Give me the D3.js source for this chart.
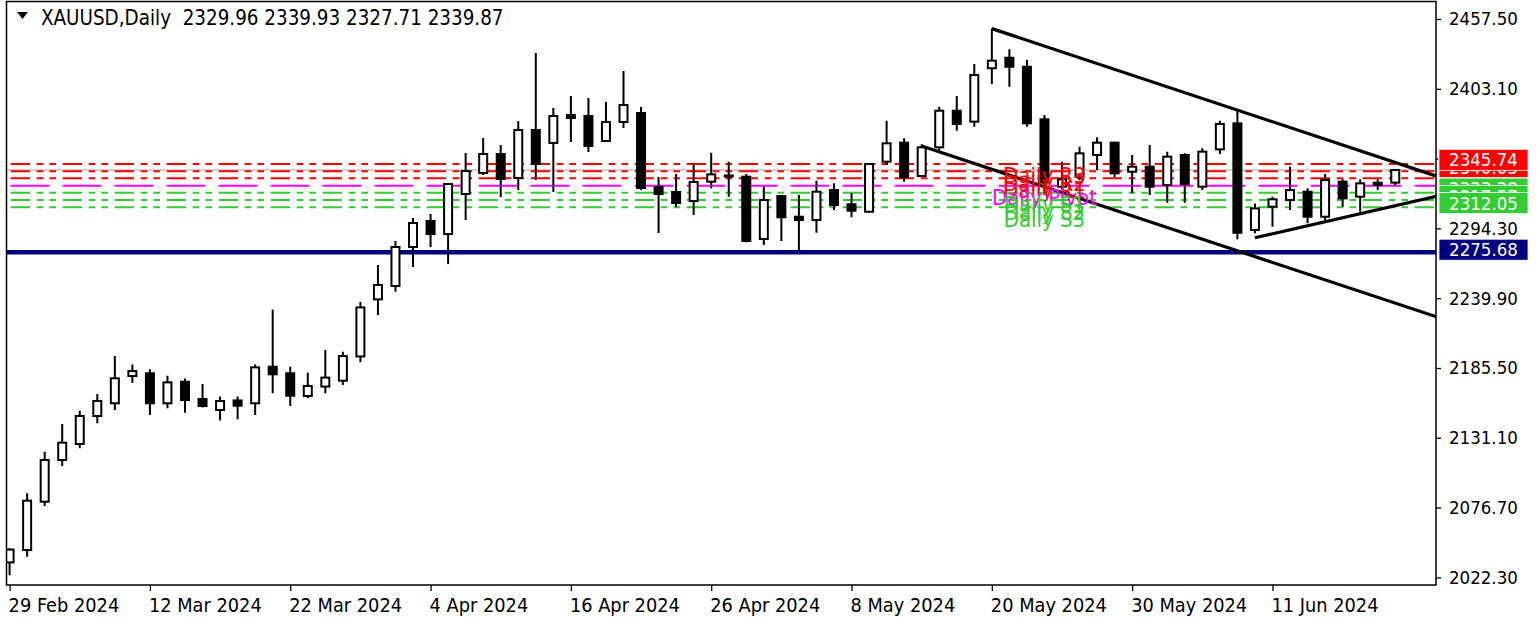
<!DOCTYPE html>
<html><head><meta charset="utf-8">
<script src="https://cdn.jsdelivr.net/npm/d3@7"></script>
<style>
html,body{margin:0;padding:0;background:#fff;}
svg{display:block;}
text{font-family:"DejaVu Sans Condensed","DejaVu Sans",sans-serif;font-stretch:condensed;}
</style></head><body>
<svg id="c" width="1538" height="622"></svg>
<script>
// ---------------- data ----------------
const symbol = "XAUUSD,Daily";
const headerOHLC = ["2329.96","2339.93","2327.71","2339.87"];
const dates = ["2024-02-29","2024-03-01","2024-03-04","2024-03-05","2024-03-06","2024-03-07","2024-03-08",
"2024-03-11","2024-03-12","2024-03-13","2024-03-14","2024-03-15","2024-03-18","2024-03-19","2024-03-20","2024-03-21","2024-03-22",
"2024-03-25","2024-03-26","2024-03-27","2024-03-28","2024-04-01","2024-04-02","2024-04-03","2024-04-04","2024-04-05",
"2024-04-08","2024-04-09","2024-04-10","2024-04-11","2024-04-12","2024-04-15","2024-04-16","2024-04-17","2024-04-18","2024-04-19",
"2024-04-22","2024-04-23","2024-04-24","2024-04-25","2024-04-26","2024-04-29","2024-04-30","2024-05-01","2024-05-02","2024-05-03",
"2024-05-06","2024-05-07","2024-05-08","2024-05-09","2024-05-10","2024-05-13","2024-05-14","2024-05-15","2024-05-16","2024-05-17",
"2024-05-20","2024-05-21","2024-05-22","2024-05-23","2024-05-24","2024-05-27","2024-05-28","2024-05-29","2024-05-30","2024-05-31",
"2024-06-03","2024-06-04","2024-06-05","2024-06-06","2024-06-07","2024-06-10","2024-06-11","2024-06-12","2024-06-13","2024-06-14",
"2024-06-17","2024-06-18","2024-06-19","2024-06-20"];
const opens = [2034,2043.6,2081.3,2113.8,2126.3,2148.1,2158.0,2179.2,2181.4,2158.0,2174.8,2161.3,2152.8,2160.2,2158.0,2186.5,2181.4,
2163.7,2171.0,2175.6,2194.5,2239.0,2249.4,2279.8,2300.1,2289.9,2321.1,2337.5,2352.3,2333.6,2371.0,2360.9,2382.7,2381.9,2362.4,2377.2,
2384.2,2326.6,2322.7,2315.6,2330.7,2335.5,2334.6,2286.0,2319.5,2303.4,2300.8,2324.2,2313.1,2307.3,2346.3,2361.1,2335.1,2357.5,2386.0,2377.5,
2419.1,2427.3,2420.3,2379.3,2326.8,2334.6,2351.5,2361.1,2338.5,2342.4,2328.1,2351.5,2326.8,2355.9,2376.2,2293.1,2311.2,2316.4,2322.9,2303.4,
2330.7,2319.0,2329.9,2329.96];
const highs = [2045,2087.8,2120.2,2141.8,2152.2,2165.2,2194.8,2188.3,2184.5,2179.5,2177.4,2173.0,2163.2,2163.2,2188.3,2231.0,2186.5,
2181.9,2199.5,2198.2,2237.0,2265.8,2284.5,2302.4,2305.5,2329.7,2353.1,2364.7,2359.3,2378.0,2431.0,2388.1,2397.5,2395.9,2392.8,2417.0,
2389.0,2334.4,2336.7,2345.3,2353.3,2346.3,2336.7,2326.8,2320.3,2320.3,2331.5,2329.4,2321.6,2345.3,2378.2,2364.5,2359.9,2389.1,2397.5,2422.4,
2450.0,2433.9,2425.5,2382.7,2346.3,2358.0,2365.3,2361.8,2351.5,2359.3,2354.1,2352.8,2356.7,2378.2,2386.0,2313.8,2319.0,2342.4,2325.5,2336.7,
2332.6,2332.6,2332.6,2339.93];
const lows = [2024,2038.4,2077.9,2109.1,2122.9,2142.4,2152.8,2174.0,2148.9,2154.1,2150.7,2154.8,2144.5,2145.5,2148.9,2165.8,2155.9,
2162.0,2165.8,2172.3,2190.0,2226.8,2245.0,2264.2,2279.8,2266.5,2300.8,2335.9,2318.8,2324.2,2332.0,2322.7,2361.6,2353.8,2362.0,2372.5,
2324.2,2290.7,2311.0,2304.7,2325.5,2319.0,2283.5,2281.4,2284.5,2276.1,2290.9,2308.6,2303.0,2306.5,2343.7,2330.7,2334.3,2355.4,2370.4,2373.5,
2406.8,2404.7,2373.6,2322.0,2325.0,2332.0,2339.8,2334.1,2321.6,2320.3,2314.3,2314.3,2324.2,2352.3,2285.8,2290.5,2295.6,2308.6,2298.3,2300.8,
2311.2,2307.3,2324.2,2327.71];
const closes = [2044,2082.1,2113.8,2127.3,2148.1,2159.8,2177.5,2183.1,2158.0,2174.3,2160.5,2155.9,2159.8,2156.1,2186.0,2180.6,2163.9,
2171.5,2178.0,2194.8,2232.7,2250.2,2279.8,2298.5,2289.9,2328.9,2339.0,2352.3,2332.8,2371.0,2344.5,2381.9,2380.3,2358.5,2377.2,2390.5,
2325.8,2321.1,2314.1,2330.5,2336.4,2334.8,2284.5,2316.4,2303.0,2300.8,2322.9,2312.5,2308.1,2344.5,2360.6,2334.1,2357.5,2386.0,2375.7,2413.8,
2425.0,2420.3,2376.2,2330.0,2332.6,2352.8,2361.1,2337.2,2342.4,2326.8,2350.2,2328.9,2354.1,2375.7,2290.9,2309.9,2317.0,2324.2,2303.4,2332.0,
2317.7,2329.4,2328.1,2339.87];
const yTicks = [2457.50,2403.10,2348.70,2294.30,2239.90,2185.50,2131.10,2076.70,2022.30];
const xTickIdx = [0,8,16,24,32,40,48,56,64,72];
const pivotNames = ["Daily R3","Daily R2","Daily R1","Daily Pivot","Daily S1","Daily S2","Daily S3"];
const pivotValues = [2345.74,2340.03,2334.51,2328.80,2323.28,2317.57,2312.05];
const pivotKinds = ["R","R","R","P","S","S","S"];
const supportLevel = 2275.68;
const bidPrice = 2339.87;
// trend lines: [startIdx, startPrice, secondIdx, secondPrice]
const trendUpper = [56, 2450.0, 70, 2386.5];
const trendLowerStart = [52, 2358.5];
const trendSupport = [71, 2287.0, 81, 2318.3];

// ---------------- setup ----------------
const svg = d3.select("#c");
const P = {left:6.5, right:1436, top:1.5, bottom:585};
const x = d3.scaleLinear().domain([0,79]).range([9.6, 9.6+79*17.54]);
const y = d3.scaleLinear().domain([2022.3,2457.5]).range([577.4,19]);
const FS = 18.5;
const colors = {R:"#ff0000", P:"#ff00ff", S:"#32cd32"};

svg.append("defs").append("clipPath").attr("id","clip")
  .append("rect").attr("x",P.left).attr("y",P.top).attr("width",P.right-P.left).attr("height",P.bottom-P.top);
const g = svg.append("g").attr("clip-path","url(#clip)");

// bid line
g.append("line").attr("x1",P.left).attr("x2",P.right).attr("y1",y(bidPrice)).attr("y2",y(bidPrice))
  .attr("stroke","#c0c0c0").attr("stroke-width",1.5);

// pivot lines
const dashStart = 10.7 - 52*2;
pivotValues.forEach((v,i)=>{
  const k = pivotKinds[i];
  g.append("line").attr("x1",dashStart).attr("x2",P.right).attr("y1",y(v)+1.5).attr("y2",y(v)+1.5)
    .attr("stroke",colors[k]).attr("stroke-width",2)
    .attr("stroke-dasharray", k==="P" ? "38.7,13.3" : "19.3,6.7,6.7,6,6.7,6.6");
});

// support line (navy)
g.append("line").attr("x1",P.left).attr("x2",P.right).attr("y1",y(supportLevel)).attr("y2",y(supportLevel))
  .attr("stroke","#000080").attr("stroke-width",4.5);

// candles
const data = dates.map((d,i)=>({i, o:opens[i], h:highs[i], l:lows[i], c:closes[i]}));
const cg = g.append("g");
cg.selectAll("line.wick").data(data).join("line").attr("class","wick")
  .attr("x1",d=>x(d.i)).attr("x2",d=>x(d.i)).attr("y1",d=>y(d.h)).attr("y2",d=>y(d.l))
  .attr("stroke","#000").attr("stroke-width",2);
cg.selectAll("rect.body").data(data).join("rect").attr("class","body")
  .attr("x",d=>x(d.i)-4).attr("width",8)
  .attr("y",d=>y(Math.max(d.o,d.c)))
  .attr("height",d=>Math.max(1,Math.abs(y(d.o)-y(d.c))))
  .attr("fill",d=>d.c>=d.o?"#fff":"#000").attr("stroke","#000").attr("stroke-width",2);

// trend lines
function priceAt(line, idx){ return line[1] + (line[3]-line[1])/(line[2]-line[0])*(idx-line[0]); }
const rightIdx = x.invert(P.right+5);
const slopeU = (trendUpper[3]-trendUpper[1])/(trendUpper[2]-trendUpper[0]);
const tl = [
  [trendUpper[0], trendUpper[1], rightIdx, priceAt(trendUpper,rightIdx)],
  [trendLowerStart[0], trendLowerStart[1], rightIdx, trendLowerStart[1]+slopeU*(rightIdx-trendLowerStart[0])],
  [trendSupport[0], trendSupport[1], rightIdx, priceAt(trendSupport,rightIdx)]
];
g.selectAll("line.trend").data(tl).join("line").attr("class","trend")
  .attr("x1",d=>x(d[0])).attr("y1",d=>y(d[1])).attr("x2",d=>x(d[2])).attr("y2",d=>y(d[3]))
  .attr("stroke","#000").attr("stroke-width",3.2);

// pivot text labels
pivotValues.forEach((v,i)=>{
  g.append("text").attr("x",x(59)).attr("y",y(v)+21).attr("text-anchor","middle")
    .attr("font-size",22).attr("fill",colors[pivotKinds[i]]).text(pivotNames[i]);
});

// frame
svg.append("rect").attr("x",P.left).attr("y",P.top).attr("width",P.right-P.left).attr("height",P.bottom-P.top)
  .attr("fill","none").attr("stroke","#000").attr("stroke-width",1.5);

// y axis
const yAxis = d3.axisRight(y).tickValues(yTicks).tickSize(5).tickPadding(8).tickFormat(d3.format(".2f"));
const ya = svg.append("g").attr("transform",`translate(${P.right},0)`).call(yAxis);
ya.select(".domain").remove();
ya.selectAll("text").attr("font-size",FS).attr("fill","#000").attr("font-family",null);
ya.selectAll("line").attr("stroke","#000").attr("stroke-width",1.3);

// x axis
const fmt = d3.timeFormat("%-d %b %Y");
const parse = d3.timeParse("%Y-%m-%d");
const xAxis = d3.axisBottom(x).tickValues(xTickIdx).tickSize(6).tickPadding(7)
  .tickFormat(i=>fmt(parse(dates[i])));
const xa = svg.append("g").attr("transform",`translate(0,${P.bottom})`).call(xAxis);
xa.select(".domain").remove();
xa.selectAll("text").attr("font-size",19.8).attr("fill","#000").attr("text-anchor","start").attr("dx",-1.5).attr("font-family",null);
xa.selectAll("line").attr("stroke","#000").attr("stroke-width",1.3);

// right price boxes
const boxX = 1439, boxW = 89, boxH = 21;
function priceBox(v, fill){
  const cy = y(v) - 2.6;
  svg.append("rect").attr("x",boxX).attr("y",cy-boxH/2).attr("width",boxW).attr("height",boxH)
    .attr("fill",fill).attr("stroke","#fff").attr("stroke-width",0.8);
  svg.append("text").attr("x",boxX+boxW/2).attr("y",cy).attr("dy","0.36em").attr("text-anchor","middle")
    .attr("font-size",FS).attr("fill","#fff").text(d3.format(".2f")(v));
}
const order = [3,2,1,0,4,5,6];
order.forEach(i=>priceBox(pivotValues[i], colors[pivotKinds[i]]));
priceBox(supportLevel, "#000080");

// header
svg.append("path").attr("d","M17,12 L28,12 L22.5,19 Z").attr("fill","#000");
svg.append("text").attr("x",41).attr("y",25).attr("font-size",20.4).attr("fill","#000")
  .attr("xml:space","preserve")
  .text(symbol + "  " + headerOHLC.join(" "));
</script>
</body></html>
